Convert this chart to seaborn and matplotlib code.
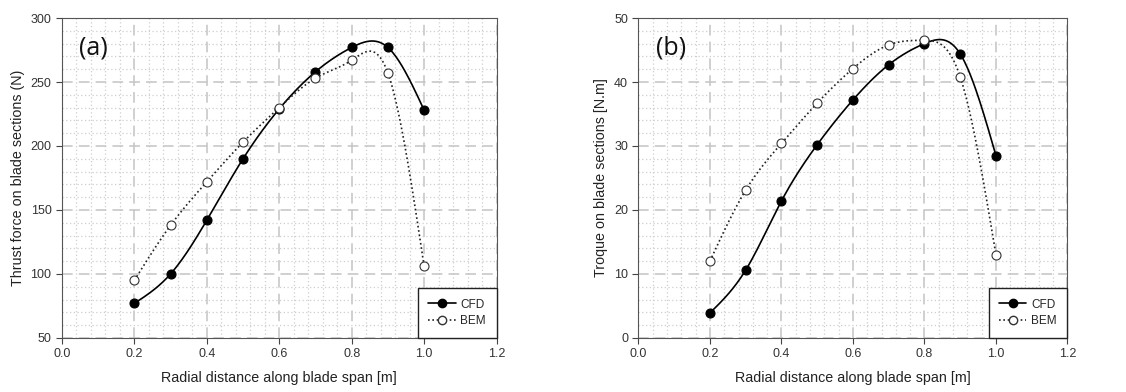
import numpy as np
import pandas as pd
import matplotlib
matplotlib.use("Agg")
import matplotlib.pyplot as plt
import seaborn as sns
from matplotlib.ticker import MultipleLocator

# ---- data ----
radius = [0.2, 0.3, 0.4, 0.5, 0.6, 0.7, 0.8, 0.9, 1.0]
thrust_cfd = [77, 100, 142, 190, 229, 258, 277, 277, 228]
thrust_bem = [95, 138, 172, 203, 230, 253, 267, 257, 106]
torque_cfd = [3.9, 10.6, 21.4, 30.2, 37.2, 42.7, 46.0, 44.4, 28.5]
torque_bem = [12.0, 23.1, 30.4, 36.7, 42.1, 45.8, 46.5, 40.8, 13.0]
series_names = ["CFD", "BEM"]
panel_labels = ["(a)", "(b)"]
y_labels = ["Thrust force on blade sections (N)", "Troque on blade sections [N.m]"]
x_label = "Radial distance along blade span [m]"


def natural_spline(x, y, n=300):
    x = np.asarray(x, float); y = np.asarray(y, float)
    k = len(x); h = np.diff(x)
    A = np.zeros((k, k)); b = np.zeros(k)
    A[0, 0] = A[-1, -1] = 1
    for i in range(1, k - 1):
        A[i, i - 1] = h[i - 1]; A[i, i] = 2 * (h[i - 1] + h[i]); A[i, i + 1] = h[i]
        b[i] = 6 * ((y[i + 1] - y[i]) / h[i] - (y[i] - y[i - 1]) / h[i - 1])
    M = np.linalg.solve(A, b)
    xs = np.linspace(x[0], x[-1], n)
    idx = np.clip(np.searchsorted(x, xs) - 1, 0, k - 2)
    x0, x1 = x[idx], x[idx + 1]; hh = x1 - x0
    ys = (M[idx] * (x1 - xs) ** 3 / (6 * hh) + M[idx + 1] * (xs - x0) ** 3 / (6 * hh)
          + (y[idx] / hh - M[idx] * hh / 6) * (x1 - xs)
          + (y[idx + 1] / hh - M[idx + 1] * hh / 6) * (xs - x0))
    return xs, ys


sns.set_theme(style="white")
plt.rcParams["font.family"] = ["Liberation Sans", "DejaVu Sans"]

fig = plt.figure(figsize=(11.26, 3.92), dpi=100)
ax1 = fig.add_axes([0.055, 0.138, 0.386, 0.816])
ax2 = fig.add_axes([0.567, 0.138, 0.381, 0.816])

panels = [
    (ax1, thrust_cfd, thrust_bem, (50, 300), 50, 10),
    (ax2, torque_cfd, torque_bem, (0, 50), 10, 2),
]

for i, (ax, cfd, bem, ylim, ymaj, ymin) in enumerate(panels):
    ax.set_xlim(0, 1.2)
    ax.set_ylim(*ylim)
    ax.xaxis.set_major_locator(MultipleLocator(0.2))
    ax.xaxis.set_minor_locator(MultipleLocator(0.04))
    ax.yaxis.set_major_locator(MultipleLocator(ymaj))
    ax.yaxis.set_minor_locator(MultipleLocator(ymin))
    ax.grid(which="minor", color="#cfcfcf", linestyle=(0, (1, 2)), linewidth=0.9)
    ax.grid(which="major", color="#c4c4c4", linestyle=(0, (7, 4)), linewidth=1.1)
    ax.set_axisbelow(True)

    # smooth curves
    xs, ys = natural_spline(radius, cfd)
    sns.lineplot(x=xs, y=ys, ax=ax, color="black", linewidth=1.2, linestyle="-")
    xs, ys = natural_spline(radius, bem)
    sns.lineplot(x=xs, y=ys, ax=ax, color="#222222", linewidth=1.2, linestyle=(0, (1, 1.6)))
    # markers
    sns.scatterplot(x=radius, y=cfd, ax=ax, color="black", edgecolor="black",
                    s=42, linewidth=0.8, zorder=5)
    sns.scatterplot(x=radius, y=bem, ax=ax, color="white", edgecolor="#333333",
                    s=42, linewidth=0.8, zorder=5)

    ax.set_xticks(np.round(np.arange(0, 1.21, 0.2), 1))
    ax.set_xticklabels([f"{v:.1f}" for v in np.arange(0, 1.21, 0.2)])
    ax.tick_params(which="major", direction="out", length=4, width=0.8,
                   color="#444444", labelsize=9, labelcolor="#333333", bottom=True, left=True)
    ax.tick_params(which="minor", length=0)
    for sp in ax.spines.values():
        sp.set_color("#555555"); sp.set_linewidth(0.8)
    ax.set_xlabel(x_label, fontsize=10.3, color="#222222", labelpad=8)
    ax.set_ylabel(y_labels[i], fontsize=10.3, color="#222222", labelpad=4)
    ax.text(0.04, 0.945, panel_labels[i], transform=ax.transAxes, fontsize=18,
            family=["Open Sans", "DejaVu Sans"], va="top", ha="left", color="#111111")

    h1 = plt.Line2D([], [], color="black", marker="o", markerfacecolor="black",
                    markersize=6, linewidth=1.2)
    h2 = plt.Line2D([], [], color="#222222", linestyle=(0, (1, 1.6)), marker="o",
                    markerfacecolor="white", markeredgecolor="#333333", markersize=6, linewidth=1.2)
    leg = ax.legend([h1, h2], series_names, loc="lower right", borderaxespad=0,
                    fancybox=False, frameon=True, fontsize=8.5, handlelength=2.3,
                    borderpad=0.9, labelspacing=0.4, handletextpad=0.4)
    leg.get_frame().set_edgecolor("#222222")
    leg.get_frame().set_linewidth(1.0)
    leg.get_frame().set_alpha(1)

fig.savefig("out.png", dpi=100)
